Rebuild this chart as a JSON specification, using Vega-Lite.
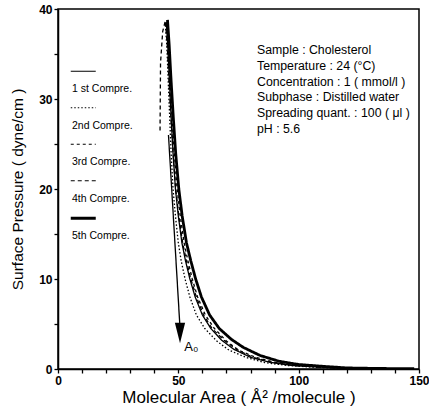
{
  "$schema": "https://vega.github.io/schema/vega-lite/v6.json",
  "width": 361,
  "height": 360,
  "autosize": "none",
  "padding": {"left": 58, "top": 9, "right": 10, "bottom": 48},
  "background": "white",
  "config": {
    "view": {"stroke": "black", "strokeWidth": 1.5},
    "font": "Liberation Sans",
    "axis": {
      "domainColor": "black", "domainWidth": 1.5, "tickColor": "black", "tickSize": 4, "tickWidth": 1.3,
      "labelColor": "black", "labelFontSize": 12, "labelFontWeight": "bold", "labelFont": "Liberation Sans",
      "titleColor": "black", "titleFontWeight": "normal", "titleFont": "Liberation Sans",
      "grid": false, "labelFlush": false, "labelOverlap": false
    }
  },
  "datasets": {
    "curves": [
      {"series": "1 st Compre.", "x": 45.0, "y": 38.5}, {"series": "1 st Compre.", "x": 45.6, "y": 36}, {"series": "1 st Compre.", "x": 46.3, "y": 32}, {"series": "1 st Compre.", "x": 47.0, "y": 28}, {"series": "1 st Compre.", "x": 47.8, "y": 24}, {"series": "1 st Compre.", "x": 48.8, "y": 20}, {"series": "1 st Compre.", "x": 50.0, "y": 17}, {"series": "1 st Compre.", "x": 51.5, "y": 14}, {"series": "1 st Compre.", "x": 53.0, "y": 12}, {"series": "1 st Compre.", "x": 54.8, "y": 10}, {"series": "1 st Compre.", "x": 57.0, "y": 8}, {"series": "1 st Compre.", "x": 60.0, "y": 6}, {"series": "1 st Compre.", "x": 63.5, "y": 4.5}, {"series": "1 st Compre.", "x": 68, "y": 3.2}, {"series": "1 st Compre.", "x": 73, "y": 2.2}, {"series": "1 st Compre.", "x": 80, "y": 1.3}, {"series": "1 st Compre.", "x": 88, "y": 0.75}, {"series": "1 st Compre.", "x": 97, "y": 0.4}, {"series": "1 st Compre.", "x": 106, "y": 0.25}, {"series": "1 st Compre.", "x": 115, "y": 0.12}, {"series": "1 st Compre.", "x": 130, "y": 0.05}, {"series": "1 st Compre.", "x": 147, "y": 0.02},
      {"series": "2nd Compre.", "x": 44.6, "y": 38.2}, {"series": "2nd Compre.", "x": 45.2, "y": 36}, {"series": "2nd Compre.", "x": 45.8, "y": 32}, {"series": "2nd Compre.", "x": 46.4, "y": 28}, {"series": "2nd Compre.", "x": 47.0, "y": 24}, {"series": "2nd Compre.", "x": 47.8, "y": 20}, {"series": "2nd Compre.", "x": 48.8, "y": 17}, {"series": "2nd Compre.", "x": 50.0, "y": 14}, {"series": "2nd Compre.", "x": 51.2, "y": 12}, {"series": "2nd Compre.", "x": 52.8, "y": 10}, {"series": "2nd Compre.", "x": 54.8, "y": 8}, {"series": "2nd Compre.", "x": 57.5, "y": 6}, {"series": "2nd Compre.", "x": 61, "y": 4.5}, {"series": "2nd Compre.", "x": 66, "y": 3.1}, {"series": "2nd Compre.", "x": 71, "y": 2.1}, {"series": "2nd Compre.", "x": 78, "y": 1.3}, {"series": "2nd Compre.", "x": 86, "y": 0.7}, {"series": "2nd Compre.", "x": 95, "y": 0.4}, {"series": "2nd Compre.", "x": 105, "y": 0.22}, {"series": "2nd Compre.", "x": 115, "y": 0.1}, {"series": "2nd Compre.", "x": 130, "y": 0.04}, {"series": "2nd Compre.", "x": 146, "y": 0.02},
      {"series": "3rd Compre.", "x": 45.2, "y": 38.6}, {"series": "3rd Compre.", "x": 45.9, "y": 36}, {"series": "3rd Compre.", "x": 46.6, "y": 32}, {"series": "3rd Compre.", "x": 47.4, "y": 28}, {"series": "3rd Compre.", "x": 48.3, "y": 24}, {"series": "3rd Compre.", "x": 49.5, "y": 20}, {"series": "3rd Compre.", "x": 50.8, "y": 17}, {"series": "3rd Compre.", "x": 52.4, "y": 14}, {"series": "3rd Compre.", "x": 54.0, "y": 12}, {"series": "3rd Compre.", "x": 55.8, "y": 10}, {"series": "3rd Compre.", "x": 58.0, "y": 8}, {"series": "3rd Compre.", "x": 61.2, "y": 6}, {"series": "3rd Compre.", "x": 65, "y": 4.5}, {"series": "3rd Compre.", "x": 70, "y": 3.1}, {"series": "3rd Compre.", "x": 75, "y": 2.1}, {"series": "3rd Compre.", "x": 82, "y": 1.3}, {"series": "3rd Compre.", "x": 90, "y": 0.75}, {"series": "3rd Compre.", "x": 99, "y": 0.42}, {"series": "3rd Compre.", "x": 108, "y": 0.25}, {"series": "3rd Compre.", "x": 118, "y": 0.12}, {"series": "3rd Compre.", "x": 132, "y": 0.05}, {"series": "3rd Compre.", "x": 147, "y": 0.02},
      {"series": "4th Compre.", "x": 42.4, "y": 26.5}, {"series": "4th Compre.", "x": 42.6, "y": 34}, {"series": "4th Compre.", "x": 43.5, "y": 37.5}, {"series": "4th Compre.", "x": 44.6, "y": 38.7}, {"series": "4th Compre.", "x": 45.4, "y": 36}, {"series": "4th Compre.", "x": 46.1, "y": 32}, {"series": "4th Compre.", "x": 46.9, "y": 28}, {"series": "4th Compre.", "x": 47.8, "y": 24}, {"series": "4th Compre.", "x": 48.9, "y": 20}, {"series": "4th Compre.", "x": 50.2, "y": 17}, {"series": "4th Compre.", "x": 51.8, "y": 14}, {"series": "4th Compre.", "x": 53.4, "y": 12}, {"series": "4th Compre.", "x": 55.2, "y": 10}, {"series": "4th Compre.", "x": 57.5, "y": 8}, {"series": "4th Compre.", "x": 60.5, "y": 6}, {"series": "4th Compre.", "x": 64, "y": 4.5}, {"series": "4th Compre.", "x": 69, "y": 3.2}, {"series": "4th Compre.", "x": 74, "y": 2.2}, {"series": "4th Compre.", "x": 81, "y": 1.3}, {"series": "4th Compre.", "x": 89, "y": 0.75}, {"series": "4th Compre.", "x": 98, "y": 0.4}, {"series": "4th Compre.", "x": 107, "y": 0.25}, {"series": "4th Compre.", "x": 116, "y": 0.12}, {"series": "4th Compre.", "x": 131, "y": 0.05}, {"series": "4th Compre.", "x": 147, "y": 0.02},
      {"series": "5th Compre.", "x": 45.5, "y": 38.8}, {"series": "5th Compre.", "x": 46.2, "y": 36}, {"series": "5th Compre.", "x": 47.0, "y": 32}, {"series": "5th Compre.", "x": 47.9, "y": 28}, {"series": "5th Compre.", "x": 48.9, "y": 24}, {"series": "5th Compre.", "x": 50.2, "y": 20}, {"series": "5th Compre.", "x": 51.6, "y": 17}, {"series": "5th Compre.", "x": 53.4, "y": 14}, {"series": "5th Compre.", "x": 55.2, "y": 12}, {"series": "5th Compre.", "x": 57.2, "y": 10}, {"series": "5th Compre.", "x": 59.6, "y": 8}, {"series": "5th Compre.", "x": 63, "y": 6}, {"series": "5th Compre.", "x": 67, "y": 4.5}, {"series": "5th Compre.", "x": 72, "y": 3.3}, {"series": "5th Compre.", "x": 77, "y": 2.4}, {"series": "5th Compre.", "x": 84, "y": 1.5}, {"series": "5th Compre.", "x": 92, "y": 0.85}, {"series": "5th Compre.", "x": 100, "y": 0.5}, {"series": "5th Compre.", "x": 110, "y": 0.3}, {"series": "5th Compre.", "x": 120, "y": 0.12}, {"series": "5th Compre.", "x": 133, "y": 0.06}, {"series": "5th Compre.", "x": 148, "y": 0.03}
    ]
  },
  "layer": [
    {
      "data": {"name": "curves"},
      "mark": {"type": "line", "color": "black", "clip": true},
      "encoding": {
        "x": {"field": "x", "type": "quantitative", "scale": {"domain": [0, 150], "nice": false},
          "axis": {"tickCount": 15, "labelExpr": "datum.value % 50 === 0 ? datum.label : ''", "title": "Molecular Area ( Å² /molecule )", "titleFontSize": 17, "titlePadding": 3, "labelPadding": 2}},
        "y": {"field": "y", "type": "quantitative", "scale": {"domain": [0, 40], "nice": false},
          "axis": {"tickCount": 8, "labelExpr": "datum.value % 10 === 0 ? datum.label : ''", "title": "Surface Pressure ( dyne/cm )", "titleFontSize": 15.5, "titlePadding": 13, "labelPadding": 2}},
        "strokeDash": {"field": "series", "type": "nominal",
          "scale": {"domain": ["1 st Compre.", "2nd Compre.", "3rd Compre.", "4th Compre.", "5th Compre."], "range": [[1, 0], [1.5, 2], [3, 3], [4, 3], [1, 0]]},
          "legend": {
            "orient": "none", "legendX": 20, "legendY": 57, "title": null,
            "symbolType": "stroke", "symbolSize": 625, "symbolStrokeColor": "black", "symbolStrokeWidth": 1.2, "symbolOpacity": 1,
            "labelFontSize": 10.5, "labelColor": "black", "labelFont": "Liberation Sans", "rowPadding": 7.5,
            "encode": {
              "labels": {"update": {"x": {"value": -6}, "dy": {"value": 18}, "align": {"value": "left"}}},
              "symbols": {"update": {"strokeWidth": {"signal": "datum.value === '5th Compre.' ? 3 : 1.2"}}}
            }
          }},
        "strokeWidth": {"condition": {"test": "datum.series === '5th Compre.'", "value": 2.8}, "value": 1.3}
      }
    },
    {
      "data": {"values": [{}]},
      "mark": {"type": "rule", "color": "black", "strokeWidth": 1.3},
      "encoding": {"x": {"datum": 45.9}, "y": {"datum": 26}, "x2": {"datum": 50.6}, "y2": {"datum": 5}}
    },
    {
      "data": {"values": [{}]},
      "mark": {"type": "point", "shape": "M-0.5,-1L0.5,-1L0,1Z", "filled": true, "color": "black", "opacity": 1, "size": 420},
      "encoding": {"x": {"datum": 50.7}, "y": {"datum": 4.0}}
    },
    {
      "data": {"values": [{}]},
      "mark": {"type": "text", "text": "A₀", "fontSize": 13, "align": "left", "baseline": "middle", "color": "black"},
      "encoding": {"x": {"datum": 52.5}, "y": {"datum": 2.4}}
    },
    {
      "data": {"values": [{}]},
      "mark": {"type": "text", "text": ["Sample : Cholesterol", "Temperature : 24 (°C)", "Concentration : 1 ( mmol/l )", "Subphase : Distilled water", "Spreading quant. : 100 ( μl )", "pH : 5.6"], "fontSize": 12.3, "lineHeight": 15.8, "align": "left", "baseline": "top", "color": "black"},
      "encoding": {"x": {"datum": 82.7}, "y": {"datum": 36.1}}
    }
  ]
}
